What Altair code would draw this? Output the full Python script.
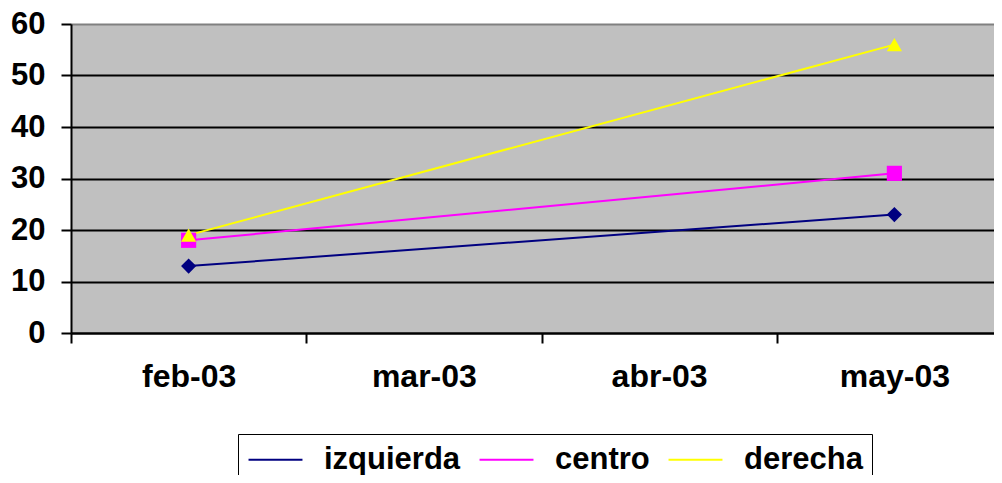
import altair as alt
import pandas as pd

months = ["feb-03", "mar-03", "abr-03", "may-03"]
series = ["izquierda", "centro", "derecha"]
izquierda = [13, None, None, 23]
centro = [18, None, None, 31]
derecha = [19, None, None, 56]
colors = ["#000080", "#FF00FF", "#FFFF00"]
markers = ["diamond", "square", "triangle-up"]

rows = []
for s, vals in zip(series, [izquierda, centro, derecha]):
    for m, v in zip(months, vals):
        if v is not None:
            rows.append({"mes": m, "valor": v, "serie": s})
df = pd.DataFrame(rows)

FONT = "Liberation Sans"

x = alt.X("mes:N", sort=months,
          scale=alt.Scale(domain=months, paddingInner=0, paddingOuter=0),
          axis=alt.Axis(title=None, labelAngle=0, tickBand="extent", grid=False,
                        labelPadding=18, labelFontSize=32))
y = alt.Y("valor:Q", scale=alt.Scale(domain=[0, 60], nice=False),
          axis=alt.Axis(title=None, values=[0, 10, 20, 30, 40, 50, 60], grid=True,
                        gridColor={"condition": {"test": "datum.value == 60", "value": "#808080"},
                                   "value": "black"},
                        gridWidth=2, labelPadding=16, labelFontSize=31))

cscale = alt.Scale(domain=series, range=colors)
leg = alt.Legend(title=None, orient="none", legendX=167, legendY=410,
                 direction="horizontal", symbolType="M-1.74,0H1.74",
                 symbolStrokeWidth=2, symbolSize=961)

layers = [alt.Chart(df).mark_line(strokeWidth=2).encode(
    x=x, y=y, color=alt.Color("serie:N", scale=cscale, legend=leg),
    order=alt.Order("mes:N"))]
for s, mk in zip(series, markers):
    layers.append(
        alt.Chart(df).transform_filter(alt.datum.serie == s)
        .mark_point(shape=mk, filled=True, size=230, opacity=1)
        .encode(x=x, y=y, color=alt.Color("serie:N", scale=cscale, legend=None))
    )

chart = alt.layer(*layers).properties(
    width=941, height=309,
    autosize=alt.AutoSizeParams(type="none"),
    padding={"left": 63, "top": 16, "right": -18, "bottom": 142},
).configure_view(
    fill="#C0C0C0", stroke=None
).configure_axis(
    labelFont=FONT, labelFontWeight="bold", labelColor="black",
    domainColor="black", domainWidth=2, tickColor="black", tickWidth=2, tickSize=10,
).configure_legend(
    orient="none", legendX=167, legendY=410, direction="horizontal",
    labelFont=FONT, labelFontSize=31, labelFontWeight="bold", labelColor="black",
    symbolSize=961, symbolStrokeWidth=2, symbolOffset=12, labelOffset=32,
    columnPadding=14, padding=9, strokeColor="black", fillColor="white",
)

chart.save("out.html", embed_options={"renderer": "svg", "actions": False})
